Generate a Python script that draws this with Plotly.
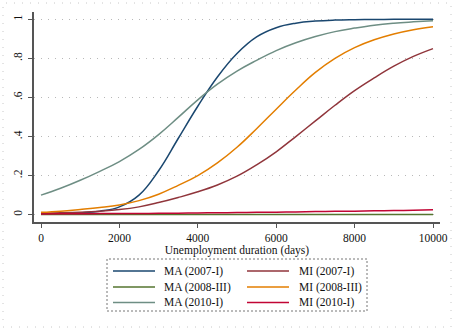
import plotly.graph_objects as go

duration = [0, 500, 1000, 1500, 2000, 2500, 3000, 3500, 4000, 4500, 5000,
            5500, 6000, 6500, 7000, 7500, 8000, 8500, 9000, 9500, 10000]

ma_2007 = [0.005, 0.006, 0.010, 0.018, 0.040, 0.100, 0.225, 0.390, 0.555, 0.705, 0.825,
           0.910, 0.957, 0.980, 0.991, 0.996, 0.998, 0.999, 1.000, 1.000, 1.000]
mi_2007 = [0.008, 0.010, 0.013, 0.018, 0.026, 0.040, 0.062, 0.088, 0.117, 0.152, 0.197,
           0.255, 0.322, 0.400, 0.480, 0.560, 0.635, 0.700, 0.760, 0.810, 0.850]
ma_2008 = [0.001, 0.001, 0.001, 0.001, 0.001, 0.001, 0.001, 0.001, 0.001, 0.001, 0.001,
           0.001, 0.001, 0.001, 0.001, 0.001, 0.001, 0.001, 0.001, 0.001, 0.001]
mi_2008 = [0.012, 0.018, 0.027, 0.037, 0.050, 0.072, 0.105, 0.150, 0.200, 0.265, 0.345,
           0.440, 0.540, 0.638, 0.728, 0.800, 0.855, 0.895, 0.925, 0.947, 0.962]
ma_2010 = [0.100, 0.135, 0.176, 0.222, 0.272, 0.334, 0.410, 0.498, 0.588, 0.668, 0.735,
           0.790, 0.840, 0.880, 0.912, 0.937, 0.955, 0.970, 0.980, 0.987, 0.993]
mi_2010 = [0.004, 0.0045, 0.005, 0.0055, 0.006, 0.0065, 0.007, 0.008, 0.009, 0.010, 0.011,
           0.012, 0.013, 0.014, 0.016, 0.017, 0.018, 0.020, 0.021, 0.023, 0.025]

x_ticks = [0, 2000, 4000, 6000, 8000, 10000]
x_tick_labels = ["0", "2000", "4000", "6000", "8000", "10000"]
y_ticks = [0, 0.2, 0.4, 0.6, 0.8, 1]
y_tick_labels = ["0", ".2", ".4", ".6", ".8", "1"]

series_names = ["MA (2007-I)", "MI (2007-I)", "MA (2008-III)",
                "MI (2008-III)", "MA (2010-I)", "MI (2010-I)"]
series_values = [ma_2007, mi_2007, ma_2008, mi_2008, ma_2010, mi_2010]
series_colors = ["#1a476f", "#90353b", "#55752f", "#e37e00", "#6e8e84", "#c10534"]

FONT = "Liberation Serif, Times New Roman, serif"
TXT = "#111"

fig = go.Figure()
for name, vals, color in zip(series_names, series_values, series_colors):
    fig.add_trace(go.Scatter(
        x=duration, y=vals, name=name, mode="lines",
        line=dict(color=color, width=1.5, shape="spline", smoothing=1.2),
        showlegend=False,
    ))

# plot area: x 34..440, y 12..222 (pixels)
W, H = 452, 328
L, R, T, B = 34, 12, 12, 106
pw, ph = W - L - R, H - T - B


def px_x(p):
    return (p - L) / pw


def px_y(p):
    return (H - B - p) / ph


shapes = [
    # legend frame
    dict(type="rect", xref="paper", yref="paper",
         x0=px_x(107), x1=px_x(367), y0=px_y(311), y1=px_y(259),
         line=dict(color="#777", width=1, dash="2px,2px"), layer="above"),
    # outer dotted frame
    dict(type="rect", xref="paper", yref="paper",
         x0=px_x(3), x1=px_x(451), y0=px_y(327), y1=px_y(3),
         line=dict(color="#c8c8c8", width=1, dash="1px,7px"), layer="below"),
]
annotations = []
row_y = [271, 287, 302.5]
col_x = [(113, 155, 162), (247, 289, 297)]
for i, (name, color) in enumerate(zip(series_names, series_colors)):
    r, c = i // 2, i % 2
    x0, x1, xt = col_x[c]
    yy = row_y[r]
    shapes.append(dict(type="line", xref="paper", yref="paper",
                       x0=px_x(x0), x1=px_x(x1), y0=px_y(yy), y1=px_y(yy),
                       line=dict(color=color, width=1.5)))
    annotations.append(dict(xref="paper", yref="paper", x=px_x(xt), y=px_y(yy),
                            text=name, showarrow=False, xanchor="left",
                            yanchor="middle",
                            font=dict(family=FONT, size=11.5, color=TXT)))

fig.update_layout(
    width=W, height=H,
    margin=dict(l=L, r=R, t=T, b=B, autoexpand=False),
    paper_bgcolor="white", plot_bgcolor="white",
    font=dict(family=FONT, size=11.5, color=TXT),
    showlegend=False,
    xaxis=dict(
        range=[-178.6, 10178.6], tickvals=x_ticks, ticktext=x_tick_labels,
        showgrid=False, zeroline=False,
        showline=True, linecolor="#555", linewidth=1.5,
        ticks="outside", ticklen=4, tickcolor="#555", tickwidth=1,
        tickfont=dict(family=FONT, size=11.5, color=TXT),
        title=dict(text="Unemployment duration (days)", standoff=2,
                   font=dict(family=FONT, size=11.5, color=TXT)),
    ),
    yaxis=dict(
        range=[-0.0374, 1.0374], tickvals=y_ticks, ticktext=y_tick_labels,
        showgrid=True, gridcolor="#b8b8b8", gridwidth=1, griddash="1px,6px",
        zeroline=False,
        showline=True, linecolor="#555", linewidth=1.5,
        ticks="outside", ticklen=4, tickcolor="#555", tickwidth=1,
        tickangle=-90, ticklabelstandoff=2,
        tickfont=dict(family=FONT, size=11.5, color=TXT),
    ),
    shapes=shapes,
    annotations=annotations,
)

# remove the browser's default 8px page margin so the figure fills the window
fig.write_html(
    "out.html",
    config={"displayModeBar": False},
    post_script="document.body.style.margin='0';document.body.style.padding='0';"
                "document.body.style.overflow='hidden';",
)
